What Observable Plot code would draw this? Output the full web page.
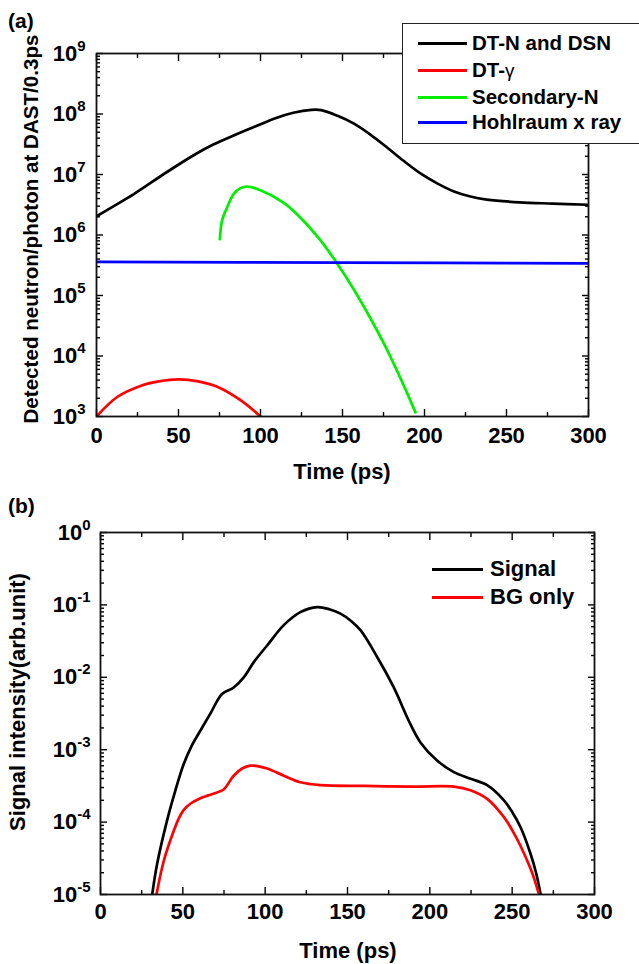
<!DOCTYPE html>
<html><head><meta charset="utf-8">
<script src="https://cdn.jsdelivr.net/npm/d3@7"></script>
<script src="https://cdn.jsdelivr.net/npm/@observablehq/plot@0.6"></script>
<style>
body{margin:0;background:#fff;}
#root{position:relative;width:639px;height:964px;overflow:hidden;background:#fff;font-family:"Liberation Sans",Arial,sans-serif;font-weight:bold;color:#000;}
#root svg{position:absolute;left:0;}
.abs{position:absolute;white-space:nowrap;line-height:1;}
.rot{transform:translate(-50%,-50%) rotate(-90deg);}
.ctr{transform:translate(-50%,-50%);}
.lg-line{position:absolute;height:3px;}
</style></head><body><div id="root"></div><script>
// ---------- Panel (a) data ----------
const timeDTN = [0, 10, 23, 43, 60, 71.5, 85, 96, 110, 120, 131, 137, 147, 157, 167, 177, 187, 198, 208, 218, 228, 238, 258, 278, 300];
const valDTN  = [2.04e6, 2.95e6, 4.79e6, 1.1e7, 2.14e7, 3.16e7, 4.57e7, 6.1e7, 8.7e7, 1.05e8, 1.17e8, 1.16e8, 9.33e7, 6.92e7, 4.57e7, 2.82e7, 1.7e7, 1.02e7, 7.08e6, 5.25e6, 4.32e6, 3.85e6, 3.47e6, 3.31e6, 3.16e6];
const timeGamma = [0, 12.6, 26.8, 38, 50, 62, 73.6, 87.8, 100];
const valGamma  = [1.0e3, 2.1e3, 3.2e3, 3.8e3, 4.1e3, 3.8e3, 3.1e3, 1.86e3, 1.0e3];
const timeSecN = [75.2, 76.6, 79.7, 83.7, 87.8, 91.9, 100, 114.2, 125, 136.6, 145.7, 156.9, 167.1, 177.2, 187.4, 194.5];
const valSecN  = [8.5e5, 1.74e6, 2.88e6, 4.79e6, 5.96e6, 6.31e6, 5.5e6, 3.39e6, 1.86e6, 8.13e5, 3.72e5, 1.26e5, 4.17e4, 1.26e4, 3.24e3, 1.17e3];
const timeHohl = [0, 150, 300];
const valHohl  = [3.6e5, 3.5e5, 3.4e5];
const namesA  = ["DT-N and DSN", "DT-γ", "Secondary-N", "Hohlraum x ray"];
const colorsA = ["#000000", "#ff0000", "#00ee00", "#0000ff"];

// ---------- Panel (b) data ----------
const timeSignal = [31.4, 34.4, 40.4, 45.5, 50.6, 55.5, 60.7, 67, 73.8, 80.9, 87, 93.1, 101.2, 111.3, 121.4, 131.6, 139, 145.7, 151.8, 157.9, 168, 178.1, 187.2, 194.3, 204.4, 214.6, 224.7, 234.8, 245, 250, 255.1, 261.2, 264.5, 267.3];
const valSignal  = [1e-5, 2.65e-5, 1.05e-4, 2.75e-4, 6.38e-4, 1.15e-3, 1.84e-3, 3.24e-3, 5.89e-3, 7.24e-3, 1.0e-2, 1.62e-2, 2.75e-2, 5.25e-2, 7.94e-2, 9.33e-2, 8.71e-2, 7.59e-2, 6.1e-2, 4.47e-2, 1.91e-2, 7.24e-3, 2.51e-3, 1.26e-3, 7.08e-4, 4.9e-4, 3.98e-4, 3.24e-4, 2.0e-4, 1.38e-4, 8.5e-5, 3.63e-5, 2.0e-5, 1e-5];
const timeBG = [34, 38.5, 44.5, 47.5, 50.6, 55, 60.7, 65.5, 70.8, 74.8, 80.9, 86, 91.1, 96, 101.2, 111.3, 121.4, 133.6, 160, 190, 214.6, 224.7, 234.8, 245, 250, 255.1, 260, 263.2, 266.3];
const valBG  = [1e-5, 2.95e-5, 7.59e-5, 1.12e-4, 1.48e-4, 1.82e-4, 2.14e-4, 2.34e-4, 2.57e-4, 2.82e-4, 4.37e-4, 5.5e-4, 6.03e-4, 5.89e-4, 5.5e-4, 4.37e-4, 3.55e-4, 3.24e-4, 3.16e-4, 3.09e-4, 3.09e-4, 2.75e-4, 2.09e-4, 1.17e-4, 7.76e-5, 4.68e-5, 2.63e-5, 1.7e-5, 1e-5];
const namesB  = ["Signal", "BG only"];
const colorsB = ["#000000", "#ff0000"];

// ---------- Ticks & titles ----------
const xMajor = [0, 50, 100, 150, 200, 250, 300];
const xMinor = [25, 75, 125, 175, 225, 275];
const yExpA = [3, 4, 5, 6, 7, 8, 9];
const yExpB = [-5, -4, -3, -2, -1, 0];
const xTitle = "Time (ps)";
const yTitleA = "Detected neutron/photon at DAST/0.3ps";
const yTitleB = "Signal intensity(arb.unit)";

const toRows = (ts, vs) => ts.map((t, i) => ({t, v: vs[i]}));
const majors = exps => exps.map(e => Math.pow(10, e));
const minors = exps => exps.slice(0, -1).flatMap(e => [2,3,4,5,6,7,8,9].map(k => k * Math.pow(10, e)));

const FONT = '"Liberation Sans", Arial, sans-serif';
const ns = "http://www.w3.org/2000/svg";

function frameMarks(exps, yPad, xPad) {
  const yM = majors(exps), ym = minors(exps);
  const blank = () => "";
  return [
    Plot.axisX({anchor: "bottom", ticks: xMajor, tickSize: -7, tickPadding: xPad, tickFormat: d => String(d), label: null, strokeWidth: 1.4}),
    Plot.axisX({anchor: "bottom", ticks: xMinor, tickSize: -4, tickFormat: blank, label: null, strokeWidth: 1.4}),
    Plot.axisX({anchor: "top", ticks: xMajor, tickSize: -7, tickFormat: blank, label: null, strokeWidth: 1.4}),
    Plot.axisX({anchor: "top", ticks: xMinor, tickSize: -4, tickFormat: blank, label: null, strokeWidth: 1.4}),
    Plot.axisY({anchor: "left", ticks: yM, tickSize: -7, tickPadding: yPad, tickFormat: d => String(Math.round(Math.log10(d))), label: null, strokeWidth: 1.4}),
    Plot.axisY({anchor: "left", ticks: ym, tickSize: -4, tickFormat: blank, label: null, strokeWidth: 1.4}),
    Plot.axisY({anchor: "right", ticks: yM, tickSize: -7, tickFormat: blank, label: null, strokeWidth: 1.4}),
    Plot.axisY({anchor: "right", ticks: ym, tickSize: -4, tickFormat: blank, label: null, strokeWidth: 1.4}),
    Plot.frame({stroke: "#111", strokeWidth: 1.8})
  ];
}

function fixLabels(svg) {
  svg.querySelectorAll('g[aria-label="y-axis tick label"] text').forEach(t => {
    const e = t.textContent;
    if (!e) { t.remove(); return; }
    t.textContent = "";
    const a = document.createElementNS(ns, "tspan");
    a.setAttribute("font-size", "22");
    a.textContent = "10";
    const b = document.createElementNS(ns, "tspan");
    b.setAttribute("dy", "-10");
    b.setAttribute("font-size", "15");
    b.textContent = e.replace("−", "-");
    t.append(a, b);
  });
  svg.querySelectorAll('g[aria-label="x-axis tick label"] text').forEach(t => { if (!t.textContent) t.remove(); });
}

const style = {fontFamily: FONT, fontSize: "22px", fontWeight: "bold", color: "#000", background: "transparent", overflow: "visible"};
const root = document.getElementById("root");

// Panel (a)
const seriesA = [[timeDTN, valDTN], [timeGamma, valGamma], [timeSecN, valSecN], [timeHohl, valHohl]];
const svgA = Plot.plot({
  width: 639, height: 490,
  marginLeft: 96, marginRight: 51, marginTop: 53, marginBottom: 74,
  style,
  x: {domain: [0, 300], axis: null},
  y: {type: "log", domain: [1e3, 1e9], axis: null},
  marks: [
    ...seriesA.map(([ts, vs], i) => Plot.line(toRows(ts, vs), {x: "t", y: "v", stroke: colorsA[i], strokeWidth: 2.7, curve: "catmull-rom", clip: true})),
    ...frameMarks(yExpA, 18, 18)
  ]
});
fixLabels(svgA);
svgA.style.top = "0px";
root.append(svgA);

// Panel (b)
const seriesB = [[timeSignal, valSignal], [timeBG, valBG]];
const svgB = Plot.plot({
  width: 639, height: 474,
  marginLeft: 100, marginRight: 45, marginTop: 42, marginBottom: 70,
  style,
  x: {domain: [0, 300], axis: null},
  y: {type: "log", domain: [1e-5, 1], axis: null},
  marks: [
    ...seriesB.map(([ts, vs], i) => Plot.line(toRows(ts, vs), {x: "t", y: "v", stroke: colorsB[i], strokeWidth: 2.7, curve: "catmull-rom", clip: true})),
    ...frameMarks(yExpB, 17, 16)
  ]
});
fixLabels(svgB);
svgB.style.top = "490px";
root.append(svgB);

// HTML text: panel labels, axis titles, legends
function addText(txt, left, top, size, cls) {
  const d = document.createElement("div");
  d.className = "abs" + (cls ? " " + cls : "");
  d.style.left = left + "px"; d.style.top = top + "px"; d.style.fontSize = size + "px";
  d.textContent = txt;
  root.append(d);
  return d;
}
addText("(a)", 8, 9.5, 21);
addText("(b)", 8, 494.5, 21);
addText(yTitleA, 30.5, 229, 20.6, "rot");
addText(yTitleB, 17.5, 702, 22, "rot");
addText(xTitle, 342, 472, 22, "ctr");
addText(xTitle, 348, 950.5, 22, "ctr");

// Legend (a) with box
const box = document.createElement("div");
box.className = "abs";
Object.assign(box.style, {left: "402px", top: "23px", width: "260px", height: "119px", border: "1.5px solid #222", background: "#fff"});
root.append(box);
const rowsA = [43, 70, 97, 122];
namesA.forEach((n, i) => {
  const l = document.createElement("div");
  l.className = "lg-line";
  Object.assign(l.style, {left: "418px", width: "49px", top: (rowsA[i] - 1.5) + "px", background: colorsA[i]});
  root.append(l);
  const d = addText("", 472, rowsA[i], 20.5, "");
  d.style.transform = "translateY(-50%)";
  if (n.includes("γ")) {
    d.append(document.createTextNode("DT-"));
    const g = document.createElement("span");
    g.style.fontWeight = "normal"; g.style.fontSize = "19px";
    g.textContent = "γ";
    d.append(g);
  } else d.textContent = n;
});
const rowsB = [569, 597];
namesB.forEach((n, i) => {
  const l = document.createElement("div");
  l.className = "lg-line";
  Object.assign(l.style, {left: "432px", width: "51px", top: (rowsB[i] - 1.5) + "px", background: colorsB[i]});
  root.append(l);
  const d = addText(n, 490, rowsB[i], 22, "");
  d.style.transform = "translateY(-50%)";
});
</script></body></html>
